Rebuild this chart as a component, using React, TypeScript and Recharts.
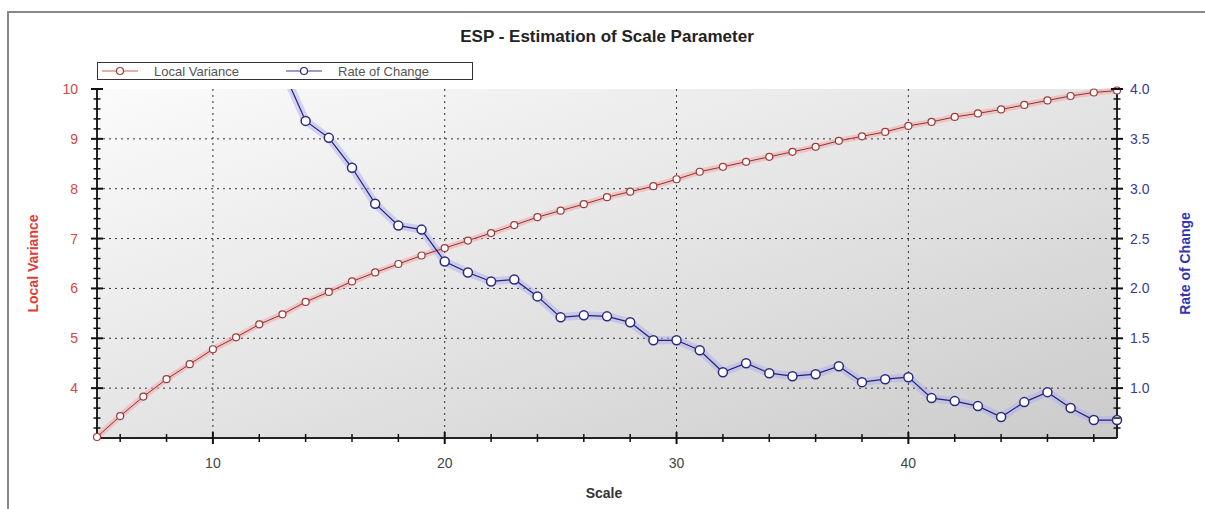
import React from 'react';
import {
  LineChart,
  Line,
  XAxis,
  YAxis,
  CartesianGrid,
} from 'recharts';

// scale values on the x axis
const scales = [
  5, 6, 7, 8, 9, 10, 11, 12, 13, 14, 15, 16, 17, 18, 19, 20, 21, 22, 23, 24, 25, 26, 27,
  28, 29, 30, 31, 32, 33, 34, 35, 36, 37, 38, 39, 40, 41, 42, 43, 44, 45, 46, 47, 48, 49,
];

const localVariance = [
  3.02, 3.44, 3.83, 4.18, 4.48, 4.78, 5.02, 5.28, 5.48, 5.73, 5.93, 6.14, 6.32, 6.49, 6.66,
  6.81, 6.96, 7.11, 7.27, 7.43, 7.56, 7.69, 7.83, 7.94, 8.05, 8.19, 8.34, 8.44, 8.54, 8.64,
  8.74, 8.84, 8.96, 9.05, 9.14, 9.26, 9.34, 9.44, 9.51, 9.59, 9.68, 9.77, 9.86, 9.93, 9.97,
];

const rateOfChange = [
  null, null, null, null, null, null, null, null, 4.2, 3.68, 3.51, 3.21, 2.85, 2.63, 2.59,
  2.27, 2.16, 2.07, 2.09, 1.92, 1.71, 1.73, 1.72, 1.66, 1.48, 1.48, 1.38, 1.16, 1.25, 1.15,
  1.12, 1.14, 1.22, 1.06, 1.09, 1.11, 0.9, 0.87, 0.82, 0.71, 0.86, 0.96, 0.8, 0.68, 0.68,
];

const seriesNames = ['Local Variance', 'Rate of Change'];

// axis ticks (minor + major)
const xTicks = [6, 8, 10, 12, 14, 16, 18, 20, 22, 24, 26, 28, 30, 32, 34, 36, 38, 40, 42, 44, 46, 48];
const leftTicks = Array.from({ length: 35 }, (_, i) => +(3.2 + i * 0.2).toFixed(1));
const rightTicks = Array.from({ length: 35 }, (_, i) => +(0.6 + i * 0.1).toFixed(1));

const data = scales.map((s, i) => ({
  scale: s,
  variance: localVariance[i],
  rate: rateOfChange[i],
}));

const FONT = '"Liberation Sans", Arial, sans-serif';
const RED = '#d24848';
const BLUE = '#3a3a96';

const isMult = (v: number, step: number) => Math.abs(v / step - Math.round(v / step)) < 1e-6;

const LeftTick = ({ x, y, payload }: any) => {
  const major = isMult(payload.value, 1);
  const len = major ? 6 : 3.5;
  return (
    <g>
      <line x1={x - len} x2={x + len} y1={y} y2={y} stroke="#111" strokeWidth={major ? 2 : 1.5} />
      {major && (
        <text x={x - 19} y={y} dy="0.36em" textAnchor="end" fill={RED} fontSize={14} fontFamily={FONT}>
          {payload.value}
        </text>
      )}
    </g>
  );
};

const RightTick = ({ x, y, payload }: any) => {
  const major = isMult(payload.value, 0.5);
  const len = major ? 6 : 3.5;
  return (
    <g>
      <line x1={x - len} x2={x + len} y1={y} y2={y} stroke="#111" strokeWidth={major ? 2 : 1.5} />
      {major && (
        <text x={x + 13} y={y} dy="0.36em" textAnchor="start" fill={BLUE} fontSize={14} fontFamily={FONT}>
          {payload.value.toFixed(1)}
        </text>
      )}
    </g>
  );
};

const BottomTick = ({ x, y, payload }: any) => {
  const major = isMult(payload.value, 10);
  const len = major ? 6 : 4;
  return (
    <g>
      <line x1={x} x2={x} y1={y - len} y2={y + len} stroke="#111" strokeWidth={major ? 2 : 1.5} />
      {major && (
        <text x={x} y={y + 25} dy="0.36em" textAnchor="middle" fill="#444" fontSize={14} fontFamily={FONT}>
          {payload.value}
        </text>
      )}
    </g>
  );
};

const TopTick = ({ x, y, payload }: any) => {
  const major = isMult(payload.value, 10);
  return <line x1={x} x2={x} y1={y} y2={y + (major ? 5 : 4)} stroke="#222" strokeWidth={1.5} />;
};

const Legend = () => (
  <div
    style={{
      position: 'absolute',
      left: 97,
      top: 62,
      width: 376,
      height: 18,
      border: '1px solid #333',
      background: '#fff',
      boxSizing: 'border-box',
    }}
  >
    <svg width={376} height={16} style={{ display: 'block' }}>
      {seriesNames.map((name, i) => {
        const ox = i === 0 ? 4 : 188;
        const col = i === 0 ? '#a03a3a' : '#2a2a80';
        return (
          <g key={name}>
            <line x1={ox} x2={ox + 36} y1={8} y2={8} stroke={i === 0 ? '#c86060' : '#3a3a90'} strokeWidth={1.2} />
            <circle cx={ox + 18} cy={8} r={3.5} fill="#fff" stroke={col} strokeWidth={1.2} />
            <text x={ox + 52} y={8} dy="0.36em" fill="#555" fontSize={13} fontFamily={FONT}>
              {name}
            </text>
          </g>
        );
      })}
    </svg>
  </div>
);

export default function App() {
  return (
    <div style={{ position: 'absolute', left: 0, top: 0, width: 1205, height: 509, background: '#fff' }}>
      <div
        style={{
          position: 'absolute',
          left: 7,
          top: 11,
          right: 0,
          bottom: 0,
          borderLeft: '2px solid #888',
          borderTop: '2px solid #888',
        }}
      />
      <div
        style={{
          position: 'absolute',
          left: 97,
          width: 1020,
          top: 27,
          textAlign: 'center',
          fontFamily: FONT,
          fontWeight: 'bold',
          fontSize: 17,
          color: '#222',
        }}
      >
        ESP - Estimation of Scale Parameter
      </div>
      <div style={{ position: 'absolute', left: 0, top: 0 }}>
        <LineChart width={1205} height={509} data={data} margin={{ top: 89, right: 0, bottom: 0, left: 0 }}>
          <defs>
            <linearGradient id="plotBg" x1="0" y1="0" x2="1" y2="1">
              <stop offset="0%" stopColor="#fbfbfb" />
              <stop offset="55%" stopColor="#e2e2e2" />
              <stop offset="100%" stopColor="#cbcbcb" />
            </linearGradient>
          </defs>
          <CartesianGrid
            xAxisId="bottom"
            yAxisId="left"
            fill="url(#plotBg)"
            stroke="#333"
            strokeDasharray="2 4"
            verticalValues={[10, 20, 30, 40]}
            horizontalValues={[4, 5, 6, 7, 8, 9]}
          />
          <XAxis
            xAxisId="bottom"
            dataKey="scale"
            type="number"
            domain={[5, 49]}
            ticks={xTicks}
            interval={0}
            height={71}
            tickSize={0}
            tickMargin={0}
            tickLine={false}
            axisLine={{ stroke: '#222', strokeWidth: 2 }}
            tick={<BottomTick />}
            label={{
              content: ({ viewBox }: any) => (
                <text
                  x={viewBox.x + viewBox.width / 2 - 3}
                  y={viewBox.y + 55}
                  dy="0.36em"
                  textAnchor="middle"
                  fontFamily={FONT}
                  fontWeight="bold"
                  fontSize={14}
                  fill="#333"
                >
                  Scale
                </text>
              ),
            }}
          />
          <XAxis
            xAxisId="top"
            orientation="top"
            dataKey="scale"
            type="number"
            domain={[5, 49]}
            ticks={xTicks}
            interval={0}
            height={0}
            tickSize={0}
            tickMargin={0}
            tickLine={false}
            axisLine={{ stroke: '#c8c8c8', strokeWidth: 1 }}
            tick={<TopTick />}
          />
          <YAxis
            yAxisId="left"
            type="number"
            domain={[3, 10]}
            ticks={leftTicks}
            interval={0}
            width={97}
            tickSize={0}
            tickMargin={0}
            tickLine={false}
            axisLine={{ stroke: '#222', strokeWidth: 2 }}
            tick={<LeftTick />}
            label={{
              content: ({ viewBox }: any) => {
                const cx = 33;
                const cy = viewBox.y + viewBox.height / 2;
                return (
                  <text
                    x={cx}
                    y={cy}
                    transform={`rotate(-90, ${cx}, ${cy})`}
                    dy="0.36em"
                    textAnchor="middle"
                    fontFamily={FONT}
                    fontWeight="bold"
                    fontSize={14}
                    fill="#e03a3a"
                  >
                    Local Variance
                  </text>
                );
              },
            }}
          />
          <YAxis
            yAxisId="right"
            orientation="right"
            type="number"
            domain={[0.5, 4]}
            allowDataOverflow
            ticks={rightTicks}
            interval={0}
            width={88}
            tickSize={0}
            tickMargin={0}
            tickLine={false}
            axisLine={{ stroke: '#222', strokeWidth: 2 }}
            tick={<RightTick />}
            label={{
              content: ({ viewBox }: any) => {
                const cx = 1185;
                const cy = viewBox.y + viewBox.height / 2;
                return (
                  <text
                    x={cx}
                    y={cy}
                    transform={`rotate(-90, ${cx}, ${cy})`}
                    dy="0.36em"
                    textAnchor="middle"
                    fontFamily={FONT}
                    fontWeight="bold"
                    fontSize={14}
                    fill="#3434b4"
                  >
                    Rate of Change
                  </text>
                );
              },
            }}
          />
          {/* soft halos under the series */}
          <Line
            xAxisId="bottom"
            yAxisId="left"
            dataKey="variance"
            stroke="#f3a6a6"
            strokeOpacity={0.55}
            strokeWidth={6}
            dot={false}
            activeDot={false}
            isAnimationActive={false}
            legendType="none"
          />
          <Line
            xAxisId="bottom"
            yAxisId="right"
            dataKey="rate"
            stroke="#aeaef2"
            strokeOpacity={0.5}
            strokeWidth={8}
            dot={false}
            activeDot={false}
            isAnimationActive={false}
            legendType="none"
          />
          <Line
            xAxisId="bottom"
            yAxisId="left"
            name={seriesNames[0]}
            dataKey="variance"
            stroke="#8c3434"
            strokeWidth={1}
            dot={{ r: 3.5, fill: '#fff', stroke: '#a03a3a', strokeWidth: 1.2 }}
            activeDot={false}
            isAnimationActive={false}
          />
          <Line
            xAxisId="bottom"
            yAxisId="right"
            name={seriesNames[1]}
            dataKey="rate"
            stroke="#23236e"
            strokeWidth={1.2}
            dot={{ r: 4.5, fill: '#fff', stroke: '#2a2a80', strokeWidth: 1.5 }}
            activeDot={false}
            isAnimationActive={false}
          />
        </LineChart>
      </div>
      <Legend />
    </div>
  );
}
